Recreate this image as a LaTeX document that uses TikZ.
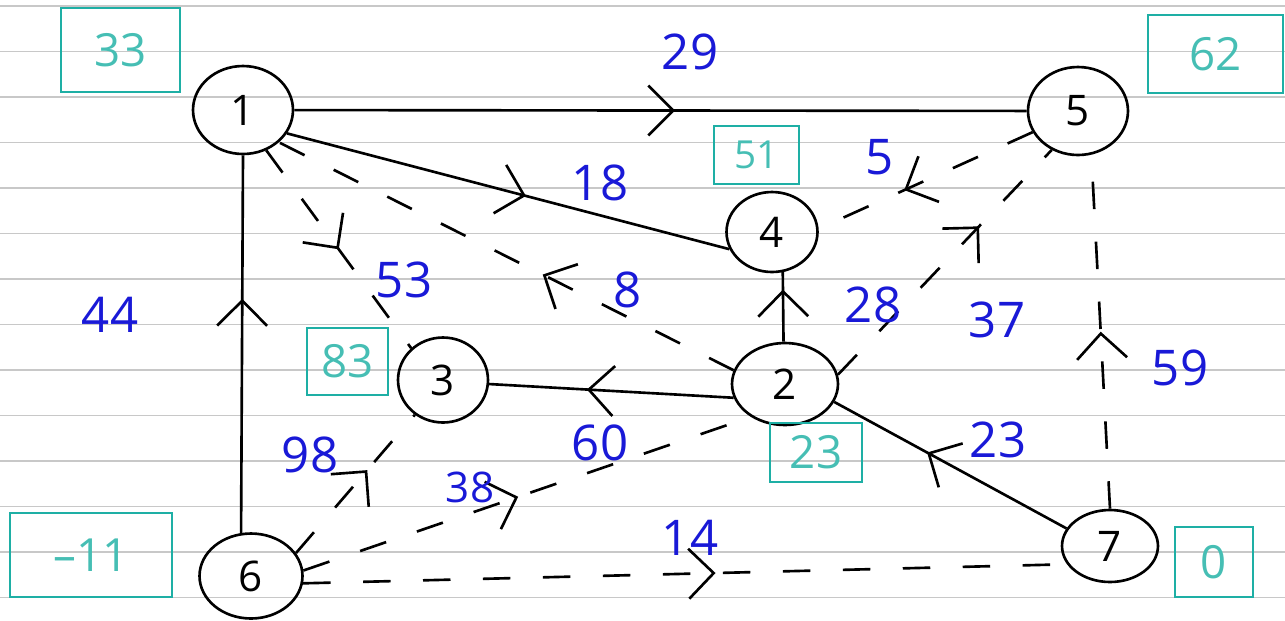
\documentclass[tikz,border=0pt]{standalone}
\usepackage{fontspec}
\setmainfont{Open Sans}
\usetikzlibrary{shapes.geometric,arrows.meta,decorations.markings}
\definecolor{inkblue}{RGB}{25,25,215}
\definecolor{tealline}{RGB}{30,175,165}
\definecolor{tealtxt}{RGB}{70,190,180}
\definecolor{ruleline}{RGB}{200,200,200}
\tikzset{
  vert/.style={draw, ellipse, line width=1.5pt, inner sep=0pt, font=\fontsize{24}{24}\selectfont},
  valbox/.style={draw=tealline, line width=1.1pt, text=tealtxt, inner sep=0pt, font=\fontsize{26}{26}\selectfont},
  wlabel/.style={text=inkblue, inner sep=0pt, font=\fontsize{28}{28}\selectfont},
  edgeline/.style={line width=1.5pt},
  dashline/.style={line width=1.5pt, dash pattern=on 0.55cm off 0.65cm},
  midarrow/.style={postaction={decorate}, decoration={markings, mark=at position #1 with {\arrow{Straight Barb[length=0.5cm,width=1.0cm,line width=1.5pt]}}}},
}
\begin{document}
\begin{tikzpicture}[x=0.02cm,y=-0.02cm]
\useasboundingbox (0,0) rectangle (1285,620);
% ruled paper
\foreach \k in {0,...,13} \draw[ruleline, line width=1.1pt] (0,{6+45.5*\k}) -- (1285,{6+45.5*\k});

% vertices
\node[vert, minimum width=2.0cm, minimum height=1.76cm] (n1) at (243,110) {1};
\node[vert, minimum width=2.0cm, minimum height=1.76cm] (n5) at (1078,111) {5};
\node[vert, minimum width=1.82cm, minimum height=1.6cm] (n4) at (772,232) {4};
\node[vert, minimum width=1.8cm, minimum height=1.7cm] (n3) at (443,380) {3};
\node[vert, minimum width=2.12cm, minimum height=1.64cm] (n2) at (785,384) {2};
\node[vert, minimum width=2.06cm, minimum height=1.7cm] (n6) at (251,576) {6};
\node[vert, minimum width=1.92cm, minimum height=1.44cm] (n7) at (1110,546) {7};

% value boxes
\node[valbox, minimum width=2.38cm, minimum height=1.68cm] (b1) at (120.5,50) {33};
\node[valbox, minimum width=2.70cm, minimum height=1.56cm] (b5) at (1215.5,54) {62};
\node[valbox, minimum width=1.70cm, minimum height=1.16cm, font=\fontsize{22}{22}\selectfont] (b4) at (756.5,155) {51};
\node[valbox, minimum width=1.62cm, minimum height=1.34cm] (b3) at (347.5,361.5) {83};
\node[valbox, minimum width=1.84cm, minimum height=1.18cm] (b2) at (816,452.5) {23};
\node[valbox, minimum width=3.24cm, minimum height=1.68cm] (b6) at (91,555) {–11};
\node[valbox, minimum width=1.56cm, minimum height=1.40cm] (b7) at (1214,562) {0};

% edges
\draw[edgeline, midarrow=0.52] (n1) -- (n5);
\draw[edgeline, midarrow=0.54] (n1.-28) -- (n4.202);
\draw[dashline, midarrow=0.5] (n1.-60) -- (n3.135);
\draw[dashline, midarrow=0.42] (n2.165) -- (n1.-42);
\draw[dashline, midarrow=0.6] (n5.205) -- (n4.4);
\draw[dashline, midarrow=0.66] (n2.10) -- (n5.236);
\draw[dashline, midarrow=0.5] (n7.90) -- (n5.-73);
\draw[edgeline, midarrow=0.75] (n2.92) -- (n4.-75);
\draw[edgeline, midarrow=0.6] (n2.195) -- (n3.-5);
\draw[edgeline, midarrow=0.6] (n7.158) -- (n2.-20);
\draw[edgeline, midarrow=0.62] (n6.103) -- (n1.-90);
\draw[dashline, midarrow=0.6] (n6.27) -- (n3.231);
\draw[dashline, midarrow=0.48] (n6.6) -- (n2.224);
\draw[dashline, midarrow=0.54] (n6.-8) -- (n7.203);

% weights
\node[wlabel] (w15) at (690,52) {29};
\node[wlabel] (w14) at (600,183) {18};
\node[wlabel] (w54) at (880,157) {5};
\node[wlabel] (w13) at (404,280) {53};
\node[wlabel] (w21) at (628,290) {8};
\node[wlabel] (w24) at (873,305) {28};
\node[wlabel] (w25) at (997,320) {37};
\node[wlabel] (w61) at (110,315) {44};
\node[wlabel] (w75) at (1180,368) {59};
\node[wlabel] (w63) at (310,455) {98};
\node[wlabel] (w23) at (600,443) {60};
\node[wlabel] (w72) at (998,440) {23};
\node[wlabel, font=\fontsize{24}{24}\selectfont] (w62) at (470,487) {38};
\node[wlabel] (w67) at (690,538) {14};
\end{tikzpicture}
\end{document}
